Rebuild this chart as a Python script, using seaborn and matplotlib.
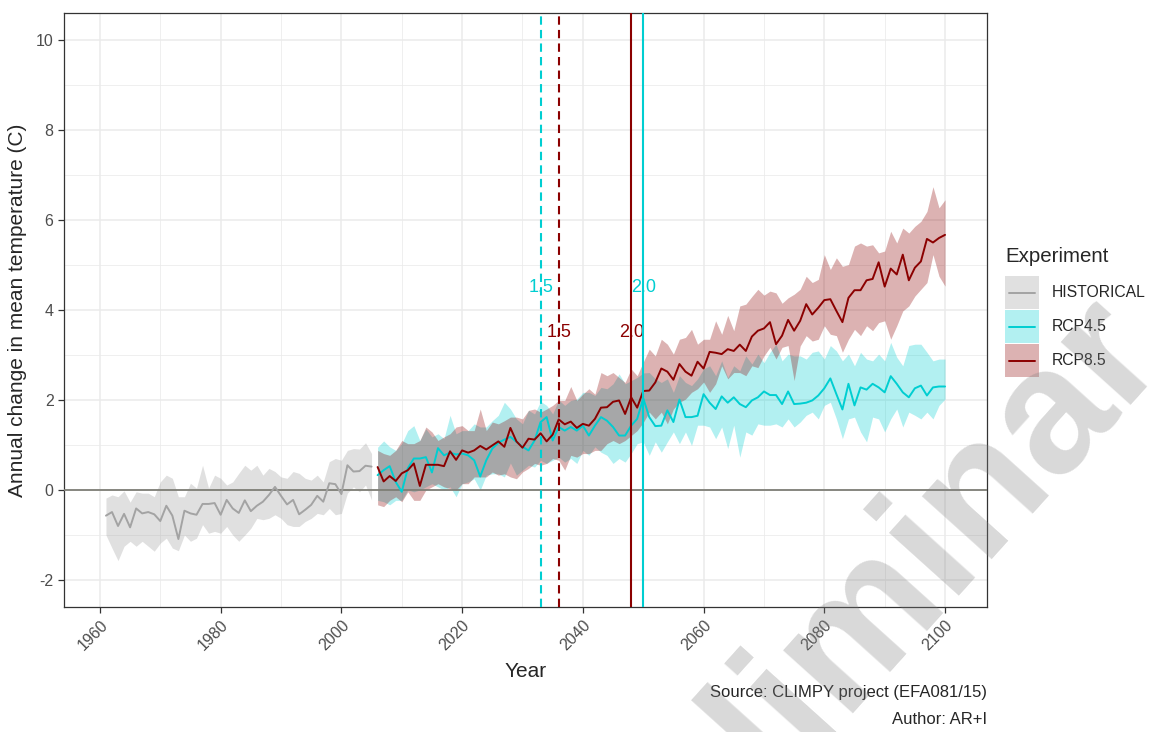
import pandas as pd
import matplotlib
matplotlib.use('Agg')
import matplotlib.pyplot as plt
from matplotlib.patches import Rectangle
from matplotlib.lines import Line2D
from matplotlib.ticker import MultipleLocator
import seaborn as sns

# ---- values (change vs. reference period, C) ----
hist_years = list(range(1961, 2006))
hist_mean = [-0.57, -0.49, -0.80, -0.53, -0.83, -0.41, -0.52, -0.49, -0.54, -0.69,
             -0.35, -0.57, -1.09, -0.46, -0.52, -0.55, -0.31, -0.31, -0.29, -0.55,
             -0.22, -0.41, -0.51, -0.23, -0.47, -0.35, -0.26, -0.11, 0.07, -0.13,
             -0.32, -0.22, -0.54, -0.44, -0.33, -0.13, -0.26, 0.15, 0.13, -0.09,
             0.55, 0.41, 0.42, 0.54, 0.52]
hist_lo = [-1.00, -1.29, -1.57, -1.25, -1.14, -1.25, -1.14, -1.25, -1.36, -1.18,
           -1.07, -1.29, -1.35, -1.00, -1.14, -1.07, -0.77, -0.96, -0.92, -0.96,
           -0.81, -1.00, -1.14, -1.00, -0.85, -0.63, -0.66, -0.63, -0.55, -0.63,
           -0.77, -0.81, -0.81, -0.70, -0.63, -0.52, -0.55, -0.41, -0.55, -0.52,
           -0.07, 0.07, -0.04, 0.11, -0.22]
hist_hi = [-0.18, -0.11, -0.15, -0.02, -0.27, -0.04, -0.07, -0.07, -0.15, 0.18,
           0.33, 0.26, -0.15, -0.15, 0.15, 0.04, 0.55, 0.04, 0.33, 0.26,
           0.11, 0.18, 0.37, 0.55, 0.44, 0.55, 0.33, 0.48, 0.41, 0.29,
           0.26, 0.41, 0.37, 0.26, 0.22, 0.33, 0.18, 0.63, 0.70, 0.66,
           0.88, 0.92, 0.91, 1.05, 0.81]

rcp_years = list(range(2006, 2101))
rcp45_mean = [0.33, 0.44, 0.53, 0.18, -0.04, 0.48, 0.70, 0.70, 0.73, 0.39,
              0.93, 0.77, 0.83, 0.79, 0.81, 0.77, 0.66, 0.30, 0.66, 0.92,
              1.05, 1.12, 1.18, 1.07, 0.96, 0.88, 1.10, 1.51, 1.62, 1.10,
              1.40, 1.32, 1.40, 1.32, 1.43, 1.21, 1.43, 1.62, 1.54, 1.40,
              1.21, 1.21, 1.43, 1.58, 2.04,
              1.62, 1.42, 1.43, 1.77, 1.51, 2.01, 1.62, 1.62, 1.65, 2.13,
              1.94, 1.80, 2.08, 1.94, 2.06, 1.91, 1.84, 1.99, 2.06, 2.19,
              2.11, 2.11, 1.91, 2.19, 1.91, 1.92, 1.94, 1.99, 2.10, 2.26,
              2.48, 2.13, 1.79, 2.36, 1.88, 2.28, 2.23, 2.36, 2.28, 2.17,
              2.53, 2.36, 2.17, 2.06, 2.26, 2.32, 2.10, 2.28, 2.30, 2.30]
rcp45_lo = [-0.23, -0.26, -0.33, -0.23, -0.23, 0.00, -0.04, 0.00, 0.07, 0.14,
            0.07, 0.00, 0.07, -0.15, 0.14, 0.18, 0.25, 0.00, 0.33, 0.36,
            0.36, 0.29, 0.60, 0.33, 0.44, 0.55, 0.51, 0.66, 0.59, 0.66,
            0.73, 0.62, 0.70, 0.59, 0.88, 0.77, 0.96, 0.84, 0.77, 0.59,
            0.70, 0.62, 0.81, 1.03, 1.07,
            0.77, 1.07, 0.84, 1.07, 1.29, 1.03, 1.29, 0.99, 1.44, 1.44,
            1.40, 1.14, 1.40, 0.92, 1.44, 0.73, 1.29, 1.22, 1.47, 1.44,
            1.44, 1.47, 1.40, 1.58, 1.40, 1.51, 1.66, 1.73, 1.58, 1.88,
            1.95, 1.58, 1.14, 1.58, 1.62, 1.29, 1.07, 1.62, 1.58, 1.29,
            1.58, 1.80, 1.40, 1.73, 1.66, 1.58, 1.73, 1.58, 1.88, 2.02]
rcp45_hi = [0.95, 1.09, 0.96, 0.88, 1.03, 1.32, 1.43, 1.10, 1.36, 1.18,
            1.25, 1.14, 1.66, 1.25, 1.32, 1.32, 1.47, 1.40, 1.40, 1.54,
            1.66, 1.95, 1.80, 1.58, 1.47, 1.77, 1.69, 1.97, 1.88, 1.69,
            2.00, 1.88, 1.99, 2.02, 2.17, 2.17, 2.10, 2.28, 2.25, 2.36,
            2.58, 2.36, 2.43, 2.50, 2.60,
            2.61, 2.47, 2.39, 2.47, 2.17, 2.54, 2.39, 2.32, 2.47, 2.69,
            2.76, 2.54, 2.87, 2.50, 2.76, 2.65, 2.98, 2.80, 3.02, 2.83,
            3.06, 3.24, 2.87, 3.02, 2.98, 2.98, 2.91, 3.06, 3.09, 2.91,
            3.21, 3.09, 2.87, 3.02, 2.76, 3.06, 2.91, 2.87, 3.02, 2.87,
            3.28, 2.95, 2.76, 3.21, 3.24, 3.24, 3.06, 2.87, 2.91, 2.91]

rcp85_mean = [0.51, 0.19, 0.31, 0.20, 0.37, 0.44, 0.59, 0.09, 0.56, 0.56,
              0.56, 0.53, 0.86, 0.67, 0.88, 0.83, 0.88, 0.98, 0.90, 0.99,
              1.08, 0.96, 1.38, 1.08, 0.94, 1.14, 1.12, 1.26, 1.08, 1.23,
              1.57, 1.46, 1.52, 1.38, 1.47, 1.43, 1.58, 1.83, 1.84, 1.96,
              1.99, 1.69, 2.06, 1.83, 2.20,
              2.21, 2.39, 2.70, 2.63, 2.45, 2.80, 2.63, 2.54, 2.85, 2.70,
              3.07, 3.05, 3.02, 3.13, 3.09, 3.23, 3.09, 3.41, 3.54, 3.59,
              3.73, 3.24, 3.43, 3.78, 3.54, 3.76, 4.13, 3.90, 4.05, 4.22,
              4.24, 3.98, 3.73, 4.27, 4.44, 4.44, 4.66, 4.69, 5.06, 4.52,
              4.92, 4.79, 5.23, 4.66, 4.94, 5.08, 5.58, 5.50, 5.60, 5.67]
rcp85_lo = [-0.33, -0.37, -0.23, -0.15, -0.26, -0.04, -0.23, -0.23, 0.00, 0.07,
            0.14, 0.07, 0.03, 0.00, 0.14, 0.14, 0.29, 0.29, 0.29, 0.40,
            0.33, 0.36, 0.29, 0.25, 0.40, 0.48, 0.59, 0.55, 0.59, 0.70,
            0.66, 0.44, 0.77, 0.73, 0.81, 0.81, 0.88, 0.88, 1.03, 1.10,
            1.03, 1.10, 1.21, 1.32, 1.50,
            1.73, 1.58, 1.73, 1.47, 1.80, 1.95, 2.02, 2.17, 2.25, 2.40,
            2.17, 2.36, 2.76, 2.47, 2.61, 2.61, 2.54, 2.76, 2.72, 2.98,
            3.17, 2.91, 3.17, 3.21, 2.43, 3.20, 3.43, 3.31, 3.35, 3.65,
            3.46, 3.43, 3.06, 3.35, 3.57, 3.43, 3.65, 3.54, 3.72, 3.76,
            3.35, 3.65, 3.98, 4.09, 4.31, 4.46, 4.61, 5.23, 4.75, 4.53]
rcp85_hi = [0.88, 0.81, 0.77, 0.88, 1.10, 1.03, 1.03, 1.10, 1.40, 1.29,
            1.10, 1.18, 1.25, 1.40, 1.43, 1.32, 1.32, 1.80, 1.32, 1.51,
            1.47, 1.54, 1.62, 1.62, 1.58, 1.77, 1.80, 1.73, 1.80, 1.88,
            1.99, 1.99, 2.30, 1.99, 2.13, 2.25, 2.13, 2.61, 2.54, 2.61,
            2.50, 2.39, 2.69, 2.54, 2.84,
            3.13, 2.98, 3.35, 3.24, 3.02, 3.35, 3.39, 3.57, 3.24, 3.35,
            3.35, 3.76, 3.46, 3.88, 3.54, 4.09, 4.13, 4.30, 4.46, 4.33,
            4.42, 4.38, 4.15, 4.27, 4.35, 4.46, 4.75, 4.61, 4.68, 5.23,
            4.90, 5.16, 4.97, 5.01, 5.42, 5.49, 5.42, 5.45, 5.27, 5.31,
            5.75, 5.49, 5.82, 5.71, 5.86, 5.97, 6.19, 6.74, 6.27, 6.45]

# years in which each scenario passes +1.5 C and +2.0 C
levels = ['1.5', '2.0']
cross45 = [2033, 2050]
cross85 = [2036, 2048]
label_y45 = 4.5
label_y85 = 3.5

experiments = ['HISTORICAL', 'RCP4.5', 'RCP8.5']
line_cols = {'HISTORICAL': '#a3a3a3', 'RCP4.5': '#00CED1', 'RCP8.5': '#8B0000'}
fill_cols = {'HISTORICAL': '#999999', 'RCP4.5': '#00CED1', 'RCP8.5': '#8B0000'}

# long table for seaborn
df = pd.concat([
    pd.DataFrame({'Year': hist_years, 'mean': hist_mean, 'lo': hist_lo, 'hi': hist_hi,
                  'Experiment': 'HISTORICAL'}),
    pd.DataFrame({'Year': rcp_years, 'mean': rcp45_mean, 'lo': rcp45_lo, 'hi': rcp45_hi,
                  'Experiment': 'RCP4.5'}),
    pd.DataFrame({'Year': rcp_years, 'mean': rcp85_mean, 'lo': rcp85_lo, 'hi': rcp85_hi,
                  'Experiment': 'RCP8.5'}),
], ignore_index=True)

sns.set_style('white')
plt.rcParams['font.family'] = ['Liberation Sans', 'DejaVu Sans']

W, H = 1160, 732
fig = plt.figure(figsize=(W / 100, H / 100), dpi=100)
ax = fig.add_axes([64 / W, 1 - 607 / H, 923 / W, 594 / H])


def fpos(x, y):
    # pixel position (from top-left) -> figure fraction
    return x / W, 1 - y / H


# uncertainty ribbons (red drawn last so the overlap turns grey)
for exp in experiments:
    sub = df[df['Experiment'] == exp]
    ax.fill_between(sub['Year'], sub['lo'], sub['hi'], color=fill_cols[exp],
                    alpha=0.3, lw=0, zorder=2)

sns.lineplot(data=df, x='Year', y='mean', hue='Experiment', hue_order=experiments,
             palette=line_cols, estimator=None, lw=1.4, legend=False, ax=ax, zorder=4)

ax.axhline(0, color='#7f7f77', lw=1.3, zorder=3)

# warming-level markers
for cross, ly, exp in [(cross45, label_y45, 'RCP4.5'), (cross85, label_y85, 'RCP8.5')]:
    for yr, lvl in zip(cross, levels):
        ls = (0, (4, 2.5)) if lvl == '1.5' else '-'
        ax.axvline(yr, color=line_cols[exp], ls=ls, lw=1.5, zorder=5)
        ax.text(yr, ly, lvl, color=line_cols[exp], ha='center', va='center',
                fontsize=13, zorder=3)

ax.set_xlim(1954.05, 2106.95)
ax.set_ylim(-2.6, 10.6)
ax.set_xticks(range(1960, 2101, 20))
ax.set_yticks(range(-2, 11, 2))
ax.set_yticklabels([str(v) for v in range(-2, 11, 2)])
ax.xaxis.set_minor_locator(MultipleLocator(10))
ax.yaxis.set_minor_locator(MultipleLocator(1))
ax.grid(which='major', color='#ebebeb', lw=1.1, zorder=0)
ax.grid(which='minor', color='#ebebeb', lw=0.55, zorder=0)
ax.set_axisbelow(True)
for sp in ax.spines.values():
    sp.set_color('#333333')
    sp.set_linewidth(0.9)
ax.tick_params(which='major', length=4, width=0.9, color='#333333',
               labelcolor='#4d4d4d', labelsize=11.5, bottom=True, left=True)
ax.tick_params(which='minor', length=0)
plt.setp(ax.get_xticklabels(), rotation=45, ha='right', va='top', rotation_mode='anchor')

ax.set_xlabel('Year', fontsize=15, labelpad=6)
ax.set_ylabel('Annual change in mean temperature (C)', fontsize=15, labelpad=6)

# legend drawn by hand: square ribbon key with the line across it
fig.text(*fpos(1005, 257), 'Experiment', fontsize=14.8, ha='left', va='center')
for i, exp in enumerate(experiments):
    top = 276 + i * 34
    x0, y0 = fpos(1005, top + 33)
    fig.add_artist(Rectangle((x0, y0), 34 / W, 33 / H, transform=fig.transFigure,
                             facecolor=fill_cols[exp], alpha=0.3, lw=0))
    xa, ym = fpos(1009, top + 16.5)
    xb, _ = fpos(1035, top + 16.5)
    fig.add_artist(Line2D([xa, xb], [ym, ym], transform=fig.transFigure,
                          color=line_cols[exp], lw=1.4))
    fig.text(*fpos(1052, top + 16.5), exp, fontsize=11.3, ha='left', va='center')

fig.text(*fpos(987, 693), 'Source: CLIMPY project (EFA081/15)',
         ha='right', va='center', fontsize=12)
fig.text(*fpos(987, 720), 'Author: AR+I', ha='right', va='center', fontsize=12)

# watermark
fig.text(*fpos(875, 676), 'Preliminar', fontsize=128, fontweight='bold', color='#808080',
         alpha=0.3, rotation=48, rotation_mode='anchor', ha='center', va='baseline',
         zorder=10)

fig.savefig('out.png', dpi=100)
